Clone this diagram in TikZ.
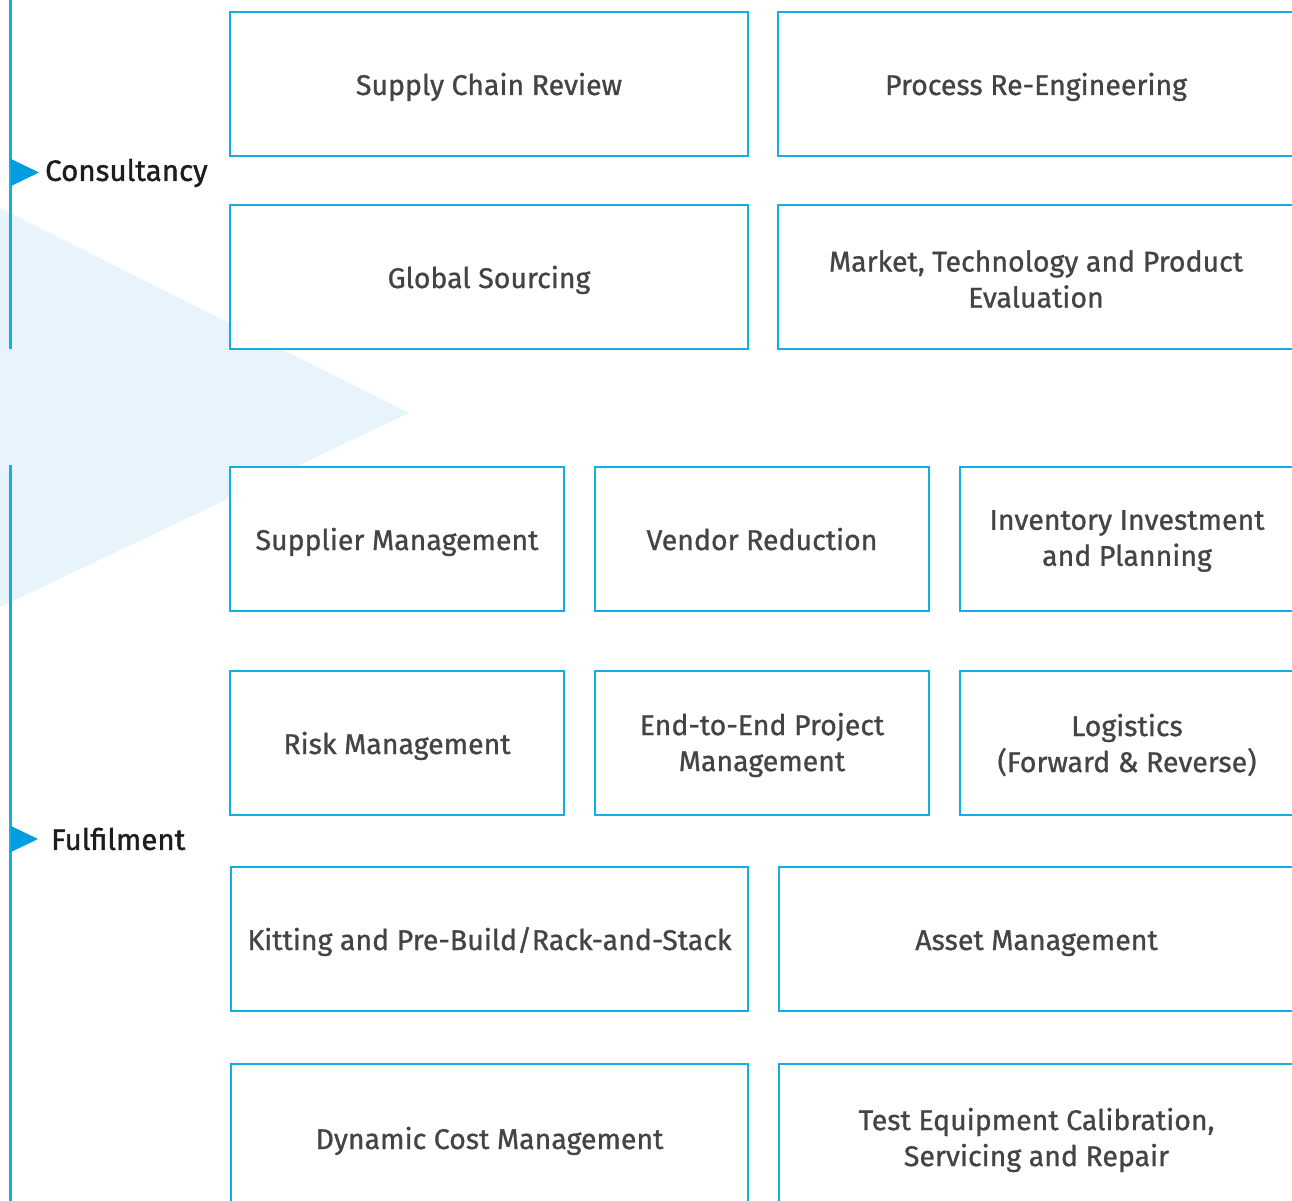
\documentclass[tikz,border=0pt]{standalone}
\usepackage{fontspec}
\setmainfont{Fira Sans}
\definecolor{boxblue}{RGB}{20,174,228}
\definecolor{arrowblue}{RGB}{0,158,224}
\definecolor{trifill}{RGB}{232,244,252}
\definecolor{txtgray}{RGB}{68,68,70}
\definecolor{lblblack}{RGB}{30,28,29}
\newcommand\lowtxt[1]{\raisebox{-2pt}[\height][\depth]{#1}}
\tikzset{
  svcbox/.style={draw=boxblue, line width=2pt, fill=white, rectangle, inner sep=0pt,
    text=txtgray, align=center, font=\fontsize{28.5}{36}\selectfont\addfontfeature{FakeBold=0.9}},
  oneline/.style={text height=28pt, text depth=6pt},
  sidelabel/.style={anchor=west, inner sep=0pt, text=lblblack, font=\fontsize{29.5}{32}\selectfont\addfontfeature{FakeBold=1.3}},
  railline/.style={draw=boxblue, line width=2.6pt},
}
\begin{document}
\begin{tikzpicture}[x=1pt,y=-1pt]
\useasboundingbox (0,0) rectangle (1292,1201);
\clip (0,0) rectangle (1292,1201);
% background triangle
\fill[trifill] (-2,207) -- (409,413) -- (-2,608) -- cycle;
% rails
\draw[railline] (10.5,-2) -- (10.5,349);
\draw[railline] (10.5,465) -- (10.5,1203);
% arrows
\fill[arrowblue] (11,159) -- (39,172.5) -- (11,186) -- cycle;
\fill[arrowblue] (11,826) -- (38,839) -- (11,852) -- cycle;
% labels
\node[sidelabel] (cons) at (45,173) {Consultancy};
\node[sidelabel] (fulf) at (51,839) {Fulfilment};
% row 1
\node[svcbox, oneline, minimum width=518pt, minimum height=144pt] (scr) at (489,84) {Supply Chain Review};
\node[svcbox, oneline, minimum width=516pt, minimum height=144pt] (pre) at (1036,84) {Process Re-Engineering};
% row 2
\node[svcbox, oneline, minimum width=518pt, minimum height=144pt] (gs) at (489,277) {Global Sourcing};
\node[svcbox, minimum width=516pt, minimum height=144pt] (mtp) at (1036,277) {\lowtxt{Market, Technology and Product}\\\lowtxt{Evaluation}};
% row 3
\node[svcbox, oneline, minimum width=334pt, minimum height=144pt] (sm) at (397,539) {Supplier Management};
\node[svcbox, oneline, minimum width=334pt, minimum height=144pt] (vr) at (762,539) {Vendor Reduction};
\node[svcbox, minimum width=334pt, minimum height=144pt] (iip) at (1127,539) {\lowtxt{Inventory Investment}\\\lowtxt{and Planning}};
% row 4
\node[svcbox, oneline, minimum width=334pt, minimum height=144pt] (rm) at (397,743) {Risk Management};
\node[svcbox, minimum width=334pt, minimum height=144pt] (e2e) at (762,743) {\lowtxt{End-to-End Project}\\\lowtxt{Management}};
\node[svcbox, minimum width=334pt, minimum height=144pt] (log) at (1127,743) {\lowtxt{Logistics}\\\lowtxt{(Forward \& Reverse)}};
% row 5
\node[svcbox, oneline, minimum width=517pt, minimum height=144pt] (kit) at (489.5,939) {Kitting and Pre-Build/Rack-and-Stack};
\node[svcbox, oneline, minimum width=515pt, minimum height=144pt] (am) at (1036.5,939) {Asset Management};
% row 6
\node[svcbox, oneline, minimum width=517pt, minimum height=148pt] (dcm) at (489.5,1138) {Dynamic Cost Management};
\node[svcbox, minimum width=515pt, minimum height=148pt] (tec) at (1036.5,1138) {\lowtxt{Test Equipment Calibration,}\\\lowtxt{Servicing and Repair}};
\end{tikzpicture}
\end{document}
